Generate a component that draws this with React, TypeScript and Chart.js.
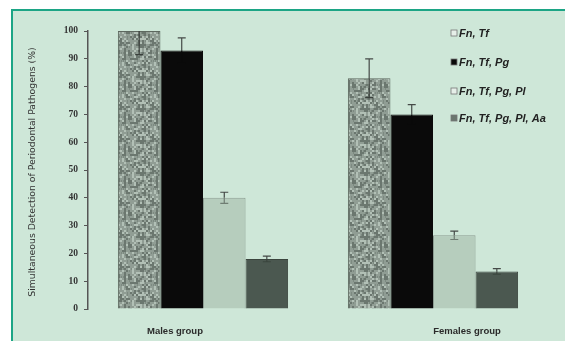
import React, { useEffect, useRef } from "react";
import { Chart, registerables } from "chart.js";

Chart.register(...registerables);

const categories = ["Males group", "Females group"];
const seriesNames = ["Fn, Tf", "Fn, Tf, Pg", "Fn, Tf, Pg, Pl", "Fn, Tf, Pg, Pl, Aa"];
const fnTf = [100, 83];
const fnTfPg = [93, 70];
const fnTfPgPl = [40, 26.5];
const fnTfPgPlAa = [18, 13.5];
const fnTfErr = [8.5, 7];
const fnTfPgErr = [4.5, 3.5];
const fnTfPgPlErr = [2, 1.5];
const fnTfPgPlAaErr = [1, 1];
const yTicks = [0, 10, 20, 30, 40, 50, 60, 70, 80, 90, 100];
const yTitle = "Simultaneous Detection of Periodontal Pathogens (%)";

const seriesValues = [fnTf, fnTfPg, fnTfPgPl, fnTfPgPlAa];
const seriesErrors = [fnTfErr, fnTfPgErr, fnTfPgPlErr, fnTfPgPlAaErr];

function makeSpeckle(): CanvasPattern | string {
  const c = document.createElement("canvas");
  c.width = 32;
  c.height = 32;
  const g = c.getContext("2d");
  if (!g) return "#8f9b93";
  g.fillStyle = "#909d94";
  g.fillRect(0, 0, 32, 32);
  for (let y = 0; y < 16; y++) {
    for (let x = 0; x < 16; x++) {
      const h = ((x * 73856093) ^ (y * 19349663) ^ ((x + 3 * y) * 83492791)) >>> 0;
      const m = h % 9;
      if (m === 0 || m === 4) {
        g.fillStyle = "#6b776f";
        g.fillRect(x * 2, y * 2, 2, 2);
      } else if (m === 2 || m === 7) {
        g.fillStyle = "#b2c0b6";
        g.fillRect(x * 2, y * 2, 2, 2);
      } else if (m === 5) {
        g.fillStyle = "#7d8a81";
        g.fillRect(x * 2 + 1, y * 2, 1, 2);
      }
    }
  }
  const ctx = document.createElement("canvas").getContext("2d");
  return ctx ? (ctx.createPattern(c, "repeat") as CanvasPattern) : "#8f9b93";
}

const bgPlugin = {
  id: "bgFrame",
  beforeDraw(chart: any) {
    const { ctx, width, height } = chart;
    ctx.save();
    ctx.fillStyle = "#ffffff";
    ctx.fillRect(0, 0, width, height);
    ctx.fillStyle = "#cee7d8";
    ctx.fillRect(12, 10, width - 12, height - 10);
    ctx.fillStyle = "#1ca585";
    ctx.fillRect(11, 9, width - 11, 2);
    ctx.fillRect(11, 9, 2, height - 9);
    ctx.restore();
  },
};

const errPlugin = {
  id: "errBars",
  afterDatasetsDraw(chart: any) {
    const { ctx, chartArea } = chart;
    const y = chart.scales.y;
    ctx.save();
    ctx.lineWidth = 1.2;
    chart.data.datasets.forEach((ds: any, di: number) => {
      const meta = chart.getDatasetMeta(di);
      meta.data.forEach((el: any, i: number) => {
        const v = ds.data[i];
        const e = seriesErrors[di][i];
        let top = y.getPixelForValue(v + e);
        const mid = y.getPixelForValue(v);
        const bot = y.getPixelForValue(v - e);
        const clipped = top < chartArea.top;
        if (clipped) top = chartArea.top;
        ctx.strokeStyle = "#454a47";
        ctx.beginPath();
        ctx.moveTo(el.x, mid);
        ctx.lineTo(el.x, top);
        if (!clipped) {
          ctx.moveTo(el.x - 4, top);
          ctx.lineTo(el.x + 4, top);
        }
        ctx.stroke();
        ctx.strokeStyle = ds.errInner;
        ctx.beginPath();
        ctx.moveTo(el.x, mid);
        ctx.lineTo(el.x, bot);
        ctx.moveTo(el.x - 4, bot);
        ctx.lineTo(el.x + 4, bot);
        ctx.stroke();
      });
    });
    ctx.restore();
  },
};

const labelOffsets = [-28, 34];

const textPlugin = {
  id: "texts",
  afterDraw(chart: any) {
    const { ctx, chartArea } = chart;
    const x = chart.scales.x;
    ctx.save();
    ctx.fillStyle = "#2a2a2a";
    ctx.font = "bold 9.5px 'Liberation Sans', Arial, sans-serif";
    ctx.textAlign = "center";
    ctx.textBaseline = "middle";
    categories.forEach((c, i) => {
      ctx.fillText(c, x.getPixelForValue(i) + labelOffsets[i], 331);
    });
    ctx.save();
    ctx.translate(33, (chartArea.top + chartArea.bottom) / 2 + 2);
    ctx.rotate(-Math.PI / 2);
    ctx.font = "9.3px 'DejaVu Sans', sans-serif";
    ctx.fillStyle = "#333";
    ctx.fillText(yTitle, 0, 0);
    ctx.restore();
    const legendY = [33, 62, 91, 118];
    ctx.font = "italic bold 11px 'Liberation Sans', Arial, sans-serif";
    ctx.textAlign = "left";
    chart.data.datasets.forEach((ds: any, i: number) => {
      const yy = legendY[i];
      ctx.fillStyle = ds.legendFill;
      ctx.fillRect(451, yy - 3, 6, 6);
      ctx.strokeStyle = "#777";
      ctx.lineWidth = 0.8;
      ctx.strokeRect(451, yy - 3, 6, 6);
      ctx.fillStyle = "#222";
      ctx.fillText(seriesNames[i], 459, yy + 1);
    });
    ctx.restore();
  },
};

export default function App() {
  const ref = useRef<HTMLCanvasElement>(null);
  useEffect(() => {
    document.body.style.margin = "0";
    if (!ref.current) return;
    const speckle = makeSpeckle();
    const fills = [speckle, "#0a0a0a", "#b6cdbd", "#4b5850"];
    const borders = ["#5d685f", "#0a0a0a", "#8c9d92", "#3b453e"];
    const legendFills = ["#e6efe9", "#0a0a0a", "#e6efe9", "#6a766e"];
    const errInner = ["#3a403c", "#0a0a0a", "#6f7d73", "#3b453e"];
    const chart = new Chart(ref.current, {
      type: "bar",
      data: {
        labels: categories,
        datasets: seriesValues.map((vals, i) => ({
          label: seriesNames[i],
          data: vals,
          backgroundColor: fills[i] as any,
          borderColor: borders[i],
          borderWidth: 1,
          legendFill: legendFills[i],
          errInner: errInner[i],
        })) as any,
      },
      options: {
        animation: false,
        responsive: true,
        maintainAspectRatio: false,
        layout: { padding: { top: 31, right: 17, bottom: 0, left: 0 } },
        plugins: { legend: { display: false }, tooltip: { enabled: false } },
        datasets: { bar: { categoryPercentage: 0.74, barPercentage: 1 } },
        scales: {
          x: {
            grid: { display: false },
            border: { display: false },
            ticks: { display: false },
            afterFit: (s: any) => {
              s.height = 32;
            },
          },
          y: {
            min: 0,
            max: 100,
            afterBuildTicks: (s: any) => {
              s.ticks = yTicks.map((v) => ({ value: v }));
            },
            grid: { drawOnChartArea: false, drawTicks: true, tickLength: 4, color: "#555" },
            border: { display: true, color: "#555", width: 1.5 },
            ticks: {
              padding: 6,
              color: "#333",
              font: { family: "'Liberation Serif', serif", size: 9.5, weight: "bold" },
            },
            afterFit: (s: any) => {
              s.width = 88;
            },
          },
        },
      },
      plugins: [bgPlugin, errPlugin, textPlugin],
    });
    return () => chart.destroy();
  }, []);
  return (
    <div style={{ width: 565, height: 341, position: "relative" }}>
      <canvas ref={ref} />
    </div>
  );
}
